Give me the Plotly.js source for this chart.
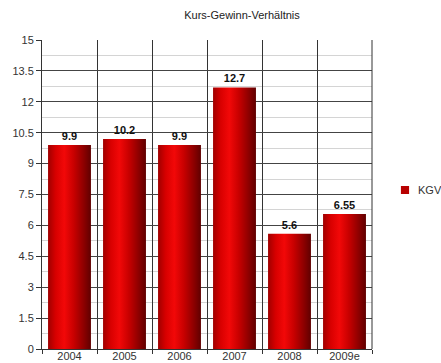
<!DOCTYPE html>
<html>
<head>
<meta charset="utf-8">
<script src="https://cdn.plot.ly/plotly-3.0.1.min.js"></script>
<style>
  html, body { margin: 0; padding: 0; background: #ffffff; }
  #chart { width: 441px; height: 363px; }
</style>
</head>
<body>
<div id="chart"></div>
<script>
// Kurs-Gewinn-Verhältnis (KGV) per year
const years = ["2004", "2005", "2006", "2007", "2008", "2009e"];
const kgv = [9.9, 10.2, 9.9, 12.7, 5.6, 6.55];
const kgvLabels = ["9.9", "10.2", "9.9", "12.7", "5.6", "6.55"];
const seriesName = "KGV";
const chartTitle = "Kurs-Gewinn-Verhältnis";

const fontFamily = "Liberation Sans, Arial, sans-serif";

const trace = {
  type: "bar",
  x: years,
  y: kgv,
  name: seriesName,
  text: kgvLabels,
  textposition: "outside",
  cliponaxis: false,
  textfont: { family: fontFamily, size: 11, color: "#111111", weight: "bold" },
  marker: { color: "#b80000", line: { width: 0 } },
  hoverinfo: "x+y"
};

const layout = {
  width: 441,
  height: 363,
  margin: { l: 42, r: 69, t: 40, b: 14, autoexpand: false },
  paper_bgcolor: "#ffffff",
  plot_bgcolor: "#ffffff",
  font: { family: fontFamily, size: 11, color: "#333333" },
  title: {
    text: chartTitle,
    x: 242 / 441,
    xanchor: "center",
    xref: "container",
    y: 1 - 15 / 363,
    yanchor: "middle",
    yref: "container",
    font: { family: fontFamily, size: 11, color: "#222222" }
  },
  bargap: 0.22,
  showlegend: true,
  legend: {
    xref: "container",
    yref: "container",
    x: 378 / 441,
    xanchor: "left",
    y: 1 - 190 / 363,
    yanchor: "middle",
    font: { family: fontFamily, size: 11, color: "#333333" },
    bgcolor: "rgba(0,0,0,0)",
    borderwidth: 0
  },
  xaxis: {
    type: "category",
    tickson: "boundaries",
    showgrid: true,
    gridcolor: "#333333",
    gridwidth: 1,
    ticks: "outside",
    ticklen: 4,
    tickcolor: "#333333",
    showline: true,
    linecolor: "#333333",
    linewidth: 1,
    mirror: false,
    ticklabelstandoff: -3,
    tickfont: { family: fontFamily, size: 11, color: "#333333" },
    fixedrange: true
  },
  yaxis: {
    range: [0, 15],
    dtick: 1.5,
    tick0: 0,
    showgrid: true,
    gridcolor: "#444444",
    gridwidth: 1,
    zeroline: false,
    ticks: "outside",
    ticklen: 5,
    tickcolor: "#333333",
    showline: true,
    linecolor: "#333333",
    linewidth: 1,
    tickfont: { family: fontFamily, size: 11, color: "#333333" },
    minor: { dtick: 0.75, showgrid: true, gridcolor: "#d4d4d4", gridwidth: 1 },
    fixedrange: true
  },
  shapes: [
    // closing frame on the right side of the plot
    { type: "line", xref: "paper", yref: "paper", x0: 1, x1: 1, y0: 0, y1: 1,
      line: { color: "#333333", width: 1 } }
  ]
};

// Horizontal shading across each bar: dark edges, bright red band left of centre
function addBarGradient(gd) {
  const svg = gd.querySelector(".main-svg");
  const ns = "http://www.w3.org/2000/svg";
  let defs = svg.querySelector("defs");
  if (!defs) { defs = document.createElementNS(ns, "defs"); svg.insertBefore(defs, svg.firstChild); }
  const grad = document.createElementNS(ns, "linearGradient");
  grad.setAttribute("id", "kgvBarShade");
  grad.setAttribute("x1", "0"); grad.setAttribute("y1", "0");
  grad.setAttribute("x2", "1"); grad.setAttribute("y2", "0");
  const stops = [
    [0, "#a00000"], [0.18, "#d80000"], [0.38, "#f20808"],
    [0.6, "#c80000"], [0.85, "#880000"], [1, "#600000"]
  ];
  stops.forEach(([o, c]) => {
    const s = document.createElementNS(ns, "stop");
    s.setAttribute("offset", o);
    s.setAttribute("stop-color", c);
    grad.appendChild(s);
  });
  defs.appendChild(grad);
  gd.querySelectorAll(".barlayer .point path").forEach(p => {
    p.style.fill = "url(#kgvBarShade)";
  });
  // smaller legend swatch, placed close to its label
  gd.querySelectorAll(".legend .legendpoints path").forEach(p => {
    p.setAttribute("transform", "translate(27,0) scale(0.68)");
  });
}

Plotly.newPlot("chart", [trace], layout, { displayModeBar: false, staticPlot: true })
  .then(addBarGradient);
</script>
</body>
</html>
